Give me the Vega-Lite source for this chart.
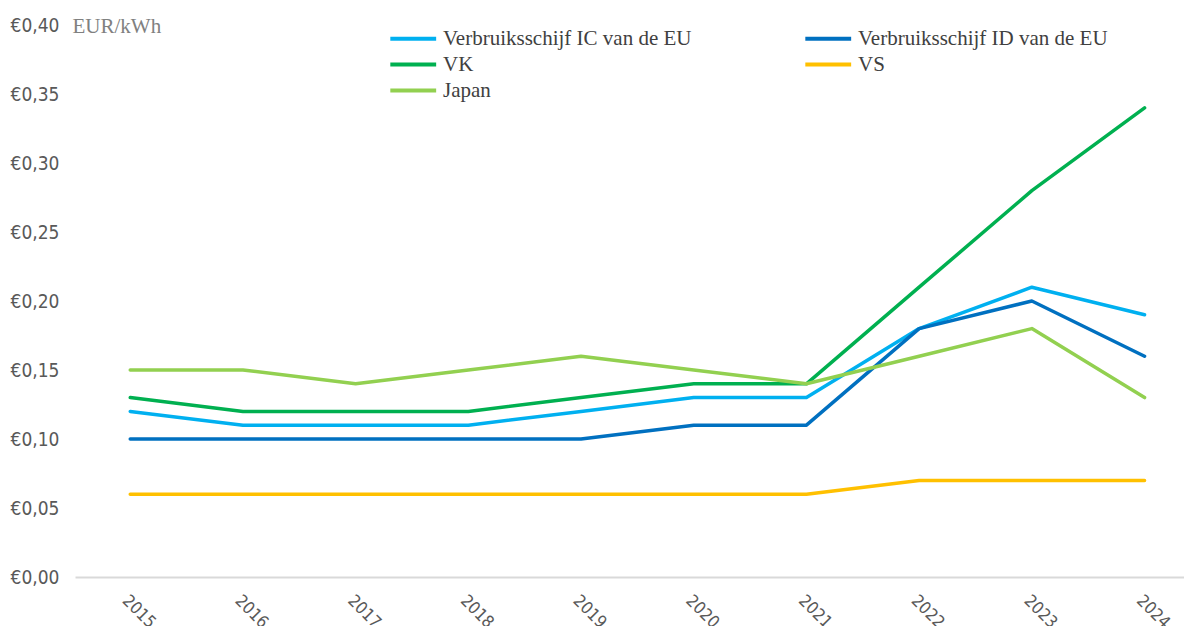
{
  "$schema": "https://vega.github.io/schema/vega-lite/v6.json",
  "width": 1109,
  "height": 552,
  "autosize": {"type": "none"},
  "padding": {"left": 75, "top": 25, "right": 0, "bottom": 49},
  "background": "white",
  "config": {"view": {"stroke": null}, "font": "Liberation Serif"},
  "data": {
    "values": [
      {"year": 2015, "series": "Verbruiksschijf IC van de EU", "price": 0.12},
      {"year": 2016, "series": "Verbruiksschijf IC van de EU", "price": 0.11},
      {"year": 2017, "series": "Verbruiksschijf IC van de EU", "price": 0.11},
      {"year": 2018, "series": "Verbruiksschijf IC van de EU", "price": 0.11},
      {"year": 2019, "series": "Verbruiksschijf IC van de EU", "price": 0.12},
      {"year": 2020, "series": "Verbruiksschijf IC van de EU", "price": 0.13},
      {"year": 2021, "series": "Verbruiksschijf IC van de EU", "price": 0.13},
      {"year": 2022, "series": "Verbruiksschijf IC van de EU", "price": 0.18},
      {"year": 2023, "series": "Verbruiksschijf IC van de EU", "price": 0.21},
      {"year": 2024, "series": "Verbruiksschijf IC van de EU", "price": 0.19},
      {"year": 2015, "series": "Verbruiksschijf ID van de EU", "price": 0.10},
      {"year": 2016, "series": "Verbruiksschijf ID van de EU", "price": 0.10},
      {"year": 2017, "series": "Verbruiksschijf ID van de EU", "price": 0.10},
      {"year": 2018, "series": "Verbruiksschijf ID van de EU", "price": 0.10},
      {"year": 2019, "series": "Verbruiksschijf ID van de EU", "price": 0.10},
      {"year": 2020, "series": "Verbruiksschijf ID van de EU", "price": 0.11},
      {"year": 2021, "series": "Verbruiksschijf ID van de EU", "price": 0.11},
      {"year": 2022, "series": "Verbruiksschijf ID van de EU", "price": 0.18},
      {"year": 2023, "series": "Verbruiksschijf ID van de EU", "price": 0.20},
      {"year": 2024, "series": "Verbruiksschijf ID van de EU", "price": 0.16},
      {"year": 2015, "series": "VK", "price": 0.13},
      {"year": 2016, "series": "VK", "price": 0.12},
      {"year": 2017, "series": "VK", "price": 0.12},
      {"year": 2018, "series": "VK", "price": 0.12},
      {"year": 2019, "series": "VK", "price": 0.13},
      {"year": 2020, "series": "VK", "price": 0.14},
      {"year": 2021, "series": "VK", "price": 0.14},
      {"year": 2022, "series": "VK", "price": 0.21},
      {"year": 2023, "series": "VK", "price": 0.28},
      {"year": 2024, "series": "VK", "price": 0.34},
      {"year": 2015, "series": "VS", "price": 0.06},
      {"year": 2016, "series": "VS", "price": 0.06},
      {"year": 2017, "series": "VS", "price": 0.06},
      {"year": 2018, "series": "VS", "price": 0.06},
      {"year": 2019, "series": "VS", "price": 0.06},
      {"year": 2020, "series": "VS", "price": 0.06},
      {"year": 2021, "series": "VS", "price": 0.06},
      {"year": 2022, "series": "VS", "price": 0.07},
      {"year": 2023, "series": "VS", "price": 0.07},
      {"year": 2024, "series": "VS", "price": 0.07},
      {"year": 2015, "series": "Japan", "price": 0.15},
      {"year": 2016, "series": "Japan", "price": 0.15},
      {"year": 2017, "series": "Japan", "price": 0.14},
      {"year": 2018, "series": "Japan", "price": 0.15},
      {"year": 2019, "series": "Japan", "price": 0.16},
      {"year": 2020, "series": "Japan", "price": 0.15},
      {"year": 2021, "series": "Japan", "price": 0.14},
      {"year": 2022, "series": "Japan", "price": 0.16},
      {"year": 2023, "series": "Japan", "price": 0.18},
      {"year": 2024, "series": "Japan", "price": 0.13}
    ]
  },
  "mark": {"type": "line", "strokeWidth": 3.5, "strokeCap": "round", "strokeJoin": "round"},
  "encoding": {
    "x": {
      "field": "year",
      "type": "quantitative",
      "scale": {"domain": [2014.51, 2024.35], "nice": false, "zero": false},
      "axis": {
        "values": [2015, 2016, 2017, 2018, 2019, 2020, 2021, 2022, 2023, 2024],
        "format": "d",
        "title": null,
        "grid": false,
        "ticks": false,
        "domainColor": "#d9d9d9",
        "domainWidth": 2,
        "labelAngle": 45,
        "labelAlign": "left",
        "labelBaseline": "top",
        "labelFont": "DejaVu Sans Condensed, sans-serif",
        "labelFontSize": 17,
        "labelColor": "#595959",
        "labelPadding": 15,
        "labelFlush": false,
        "labelOverlap": false
      }
    },
    "y": {
      "field": "price",
      "type": "quantitative",
      "scale": {"domain": [0, 0.4], "nice": false},
      "axis": {
        "values": [0, 0.05, 0.1, 0.15, 0.2, 0.25, 0.3, 0.35, 0.4],
        "labelExpr": "'€' + replace(format(datum.value, '.2f'), '.', ',')",
        "grid": false,
        "ticks": false,
        "domain": false,
        "labelFont": "DejaVu Sans Condensed, sans-serif",
        "labelFontSize": 19,
        "labelColor": "#595959",
        "labelPadding": 16,
        "labelFlush": false,
        "title": "EUR/kWh",
        "titleAngle": 0,
        "titleAlign": "left",
        "titleBaseline": "middle",
        "titleX": -3,
        "titleY": 1,
        "titleFont": "Liberation Serif",
        "titleFontSize": 21,
        "titleFontWeight": "normal",
        "titleColor": "#808080"
      }
    },
    "color": {
      "field": "series",
      "type": "nominal",
      "scale": {
        "domain": ["Verbruiksschijf IC van de EU", "Verbruiksschijf ID van de EU", "VK", "VS", "Japan"],
        "range": ["#00b0f0", "#0070c0", "#00b050", "#ffc000", "#92d050"]
      },
      "legend": {
        "orient": "none",
        "direction": "horizontal",
        "legendX": 313,
        "legendY": 0,
        "columns": 2,
        "columnPadding": 105,
        "rowPadding": 2,
        "title": null,
        "symbolType": "M-1,0H3.1",
        "symbolSize": 500,
        "symbolStrokeWidth": 4,
        "labelFont": "Liberation Serif",
        "labelFontSize": 21,
        "labelColor": "#404040",
        "labelOffset": 28,
        "labelLimit": 400
      }
    }
  }
}
